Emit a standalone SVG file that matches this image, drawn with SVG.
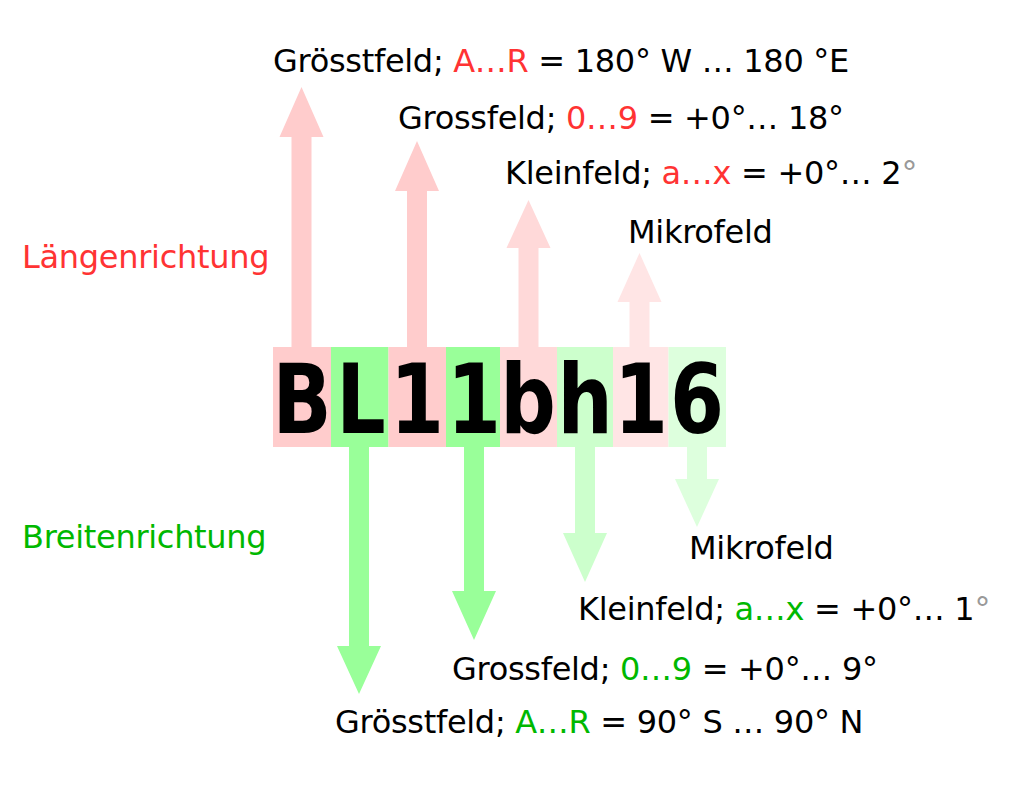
<svg xmlns="http://www.w3.org/2000/svg" width="1020" height="794" viewBox="0 0 1020 794">
<style>
text{font-family:"DejaVu Sans","Liberation Sans",sans-serif;font-size:32px;fill:#000;letter-spacing:-0.3px}
.r{fill:#ff3333}
.g{fill:#00b800}
.gr{fill:#999999}
.big{font-weight:bold;font-size:97px;text-anchor:middle;letter-spacing:0}
</style>
<rect width="1020" height="794" fill="#ffffff"/>
<g id="connectors">
  <path d="M291.5,347 V137 H279.5 L301.5,87 L323.5,137 H311.5 V347 Z" fill="#ffcccc"/>
  <path d="M407,347 V191 H395 L417,141 L439,191 H427 V347 Z" fill="#ffcccc"/>
  <path d="M518.5,347 V248 H506.5 L528.5,200 L550.5,248 H538.5 V347 Z" fill="#ffd9d9"/>
  <path d="M629.5,347 V302 H617.5 L639.5,253 L661.5,302 H649.5 V347 Z" fill="#ffe5e5"/>
  <path d="M349,447 V646 H337 L359,694 L381,646 H369 V447 Z" fill="#99ff99"/>
  <path d="M464,447 V591 H452 L474,640 L496,591 H484 V447 Z" fill="#99ff99"/>
  <path d="M575,447 V533 H563 L585,582 L607,533 H595 V447 Z" fill="#ccffcc"/>
  <path d="M687,447 V479 H675 L697,527 L719,479 H707 V447 Z" fill="#ddffdd"/>
</g>
<g id="code">
  <rect x="273" y="347" width="58" height="100" fill="#ffcccc"/>
  <rect x="331" y="347" width="57.5" height="100" fill="#99ff99"/>
  <rect x="388.5" y="347" width="57.5" height="100" fill="#ffcccc"/>
  <rect x="446" y="347" width="54" height="100" fill="#99ff99"/>
  <rect x="500" y="347" width="57" height="100" fill="#ffd9d9"/>
  <rect x="557" y="347" width="56" height="100" fill="#ccffcc"/>
  <rect x="613" y="347" width="55.5" height="100" fill="#ffe5e5"/>
  <rect x="668.5" y="347" width="57.5" height="100" fill="#ddffdd"/>
  <g transform="translate(302,433) scale(0.8,1)"><text class="big">B</text></g>
  <g transform="translate(361,433) scale(0.8,1)"><text class="big">L</text></g>
  <g transform="translate(417,433) scale(0.8,1)"><text class="big">1</text></g>
  <g transform="translate(474,433) scale(0.8,1)"><text class="big">1</text></g>
  <g transform="translate(528,433) scale(0.8,1)"><text class="big">b</text></g>
  <g transform="translate(585,433) scale(0.8,1)"><text class="big">h</text></g>
  <g transform="translate(641,433) scale(0.8,1)"><text class="big">1</text></g>
  <g transform="translate(697,433) scale(0.8,1)"><text class="big">6</text></g>
</g>
<g id="labels-top">
  <text x="273" y="72">Grösstfeld; <tspan class="r">A…R</tspan> = 180° W … 180 °E</text>
  <text x="398" y="129">Grossfeld; <tspan class="r">0…9</tspan> = +0°… 18°</text>
  <text x="505" y="184">Kleinfeld; <tspan class="r">a…x</tspan> = +0°… 2<tspan class="gr">°</tspan></text>
  <text x="628" y="243">Mikrofeld</text>
  <text x="22" y="268" class="r">Längenrichtung</text>
</g>
<g id="labels-bottom">
  <text x="22" y="548" class="g">Breitenrichtung</text>
  <text x="689" y="559">Mikrofeld</text>
  <text x="578" y="620">Kleinfeld; <tspan class="g">a…x</tspan> = +0°… 1<tspan class="gr">°</tspan></text>
  <text x="452" y="680">Grossfeld; <tspan class="g">0…9</tspan> = +0°… 9°</text>
  <text x="335" y="733">Grösstfeld; <tspan class="g">A…R</tspan> = 90° S … 90° N</text>
</g>
</svg>
